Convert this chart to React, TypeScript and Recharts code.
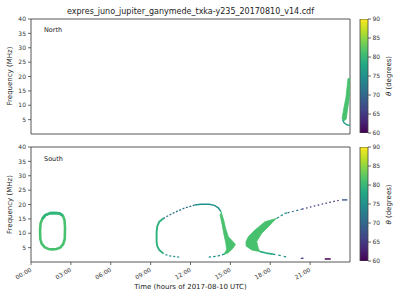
import React from 'react';
import { ComposedChart, Scatter, XAxis, YAxis, BarChart, Bar, ReferenceArea } from 'recharts';

const hourTicks = [0, 3, 6, 9, 12, 15, 18, 21];
const freqTicks = [5, 10, 15, 20, 25, 30, 35, 40];
const thetaTicks = [60, 65, 70, 75, 80, 85, 90];
const colorbarData = [{ name: 'theta', range: [60, 90] }];

// North hemisphere
const northBand = [
  { t: 23.85, f: 19.3 }, { t: 24.0, f: 19.3 }, { t: 24.0, f: 17 }, { t: 23.95, f: 12.8 },
  { t: 23.8, f: 8.1 }, { t: 23.72, f: 5.2 }, { t: 23.6, f: 4.7 }, { t: 23.4, f: 5.2 },
  { t: 23.5, f: 8.1 }, { t: 23.7, f: 12.8 }, { t: 23.85, f: 19.3 },
];
const northTail = [
  { t: 23.45, f: 5.0 }, { t: 23.55, f: 3.9 }, { t: 23.75, f: 3.2 }, { t: 24.0, f: 3.0 },
];

// South hemisphere
const ovalLeft = [
  { t: 1.45, f: 17.0 }, { t: 1.8, f: 17.05 }, { t: 2.15, f: 16.9 }, { t: 2.4, f: 16.1 },
  { t: 2.52, f: 14.6 }, { t: 2.56, f: 12 }, { t: 2.54, f: 8 }, { t: 2.42, f: 6.2 },
  { t: 2.2, f: 5.0 }, { t: 1.92, f: 4.5 }, { t: 1.6, f: 4.4 }, { t: 1.3, f: 4.55 },
  { t: 1.02, f: 5.2 }, { t: 0.8, f: 6.4 }, { t: 0.7, f: 8 }, { t: 0.68, f: 11 },
  { t: 0.72, f: 13.4 }, { t: 0.85, f: 15 }, { t: 1.08, f: 16.3 }, { t: 1.45, f: 17.0 },
];
const ovalLeftTop = [
  { t: 0.85, f: 15 }, { t: 1.08, f: 16.3 }, { t: 1.45, f: 17.0 }, { t: 1.8, f: 17.05 },
  { t: 2.15, f: 16.9 }, { t: 2.4, f: 16.1 },
];
const midLeft = [
  { t: 9.95, f: 3.0 }, { t: 9.65, f: 4.2 }, { t: 9.5, f: 5.5 }, { t: 9.45, f: 7 },
  { t: 9.45, f: 10.5 }, { t: 9.5, f: 12.5 }, { t: 9.65, f: 14 }, { t: 9.95, f: 15.1 },
];
const midTopDotted = [
  { t: 9.95, f: 15.1 }, { t: 10.4, f: 16.3 }, { t: 11.06, f: 17.8 }, { t: 11.7, f: 19.0 }, { t: 12.3, f: 19.8 },
];
const midTop = [
  { t: 12.3, f: 19.8 }, { t: 12.8, f: 20.1 }, { t: 13.4, f: 20.1 }, { t: 13.8, f: 19.7 },
  { t: 14.1, f: 18.8 }, { t: 14.3, f: 17.5 },
];
const midLobe = [
  { t: 14.3, f: 17.5 }, { t: 14.5, f: 14.5 }, { t: 14.65, f: 11.5 }, { t: 14.85, f: 8.8 },
  { t: 15.15, f: 7.3 }, { t: 15.38, f: 6.1 }, { t: 15.2, f: 4.8 }, { t: 14.85, f: 3.2 },
  { t: 14.5, f: 2.6 }, { t: 14.72, f: 4.3 }, { t: 14.66, f: 6.5 }, { t: 14.52, f: 9.5 },
  { t: 14.38, f: 13 }, { t: 14.22, f: 16.5 },
];
const midBottomRight = [
  { t: 14.55, f: 2.7 }, { t: 14.1, f: 2.15 }, { t: 13.7, f: 1.85 }, { t: 13.3, f: 1.7 },
];
const midBottomLeft = [
  { t: 11.15, f: 1.7 }, { t: 10.5, f: 2.05 }, { t: 10.1, f: 2.6 }, { t: 9.95, f: 3.0 },
];
const rightLobe = [
  { t: 18.5, f: 15.2 }, { t: 17.6, f: 14.0 }, { t: 16.85, f: 11.1 }, { t: 16.35, f: 8.8 },
  { t: 16.18, f: 7.1 }, { t: 16.18, f: 5.6 }, { t: 16.6, f: 4.2 }, { t: 17.23, f: 3.6 },
  { t: 17.1, f: 4.8 }, { t: 16.98, f: 7.1 }, { t: 17.36, f: 10 }, { t: 18.1, f: 13.4 },
];
const rightLowSolid = [
  { t: 17.23, f: 3.6 }, { t: 17.7, f: 3.1 }, { t: 18.2, f: 2.75 },
];
const rightLowDashed = [
  { t: 18.2, f: 2.75 }, { t: 18.9, f: 2.1 }, { t: 19.3, f: 1.65 },
];
const rightLowPurple = [{ t: 20.3, f: 1.3 }, { t: 20.5, f: 1.3 }];
const rightLowDark = [{ t: 22.1, f: 1.05 }, { t: 22.55, f: 1.05 }];
const rightUpTeal = [{ t: 18.5, f: 15.2 }, { t: 19.1, f: 16.9 }, { t: 19.3, f: 17.1 }];
const rightUpBlue = [{ t: 19.3, f: 17.1 }, { t: 20.4, f: 18.4 }];
const rightUpPurple = [
  { t: 20.4, f: 18.4 }, { t: 21.6, f: 19.8 }, { t: 22.9, f: 21.2 }, { t: 23.3, f: 21.5 },
];
const rightUpEnd = [{ t: 23.4, f: 21.6 }, { t: 23.8, f: 21.6 }];

const viridisStops = [
  '#440154', '#482475', '#414487', '#355f8d', '#2a788e', '#21918c',
  '#22a884', '#44bf70', '#7ad151', '#bddf26', '#fde725',
];

const GREEN = '#48c16e';
const FONT = 'DejaVu Sans';
const AXIS = '#444';

const EmptyShape = () => <g />;

const pad = (n: number) => (n < 10 ? '0' + n : '' + n);

const TimeTick = (props: any) => {
  const { x, y, payload } = props;
  return (
    <g transform={`translate(${x + 1},${y + 4})`}>
      <text x={0} y={0} textAnchor="end" transform="rotate(-30)" fontSize={6} fill="#333" fontFamily={FONT}>
        {pad(payload.value) + ':00'}
      </text>
    </g>
  );
};

function Seg({ data, color, width = 1.5, dash, fill }: { data: any[]; color: string; width?: number; dash?: string; fill?: boolean }) {
  return (
    <Scatter
      data={data}
      fill={color}
      shape={EmptyShape}
      isAnimationActive={false}
      line={{
        stroke: color,
        strokeWidth: width,
        strokeDasharray: dash,
        fill: fill ? color : 'none',
        strokeLinejoin: 'round',
      } as any}
      lineType="joint"
    />
  );
}

function Panel({ top, height, bottomAxis, children }: { top: number; height: number; bottomAxis: boolean; children: React.ReactNode }) {
  const plotBottom = top + 115;
  return (
    <div style={{ position: 'absolute', left: 0, top: 0 }}>
      <ComposedChart
        width={360}
        height={height}
        margin={{ top, right: 10, bottom: 0, left: 0 }}
      >
        <XAxis
          dataKey="t"
          type="number"
          domain={[0, 24]}
          ticks={hourTicks}
          allowDataOverflow
          height={height - plotBottom}
          axisLine={false}
          tickLine={{ stroke: AXIS, strokeWidth: 0.8 }}
          tickSize={3}
          tickMargin={2}
          tick={bottomAxis ? <TimeTick /> : false}
          interval={0}
        />
        <YAxis
          dataKey="f"
          type="number"
          domain={[0, 40]}
          ticks={freqTicks}
          allowDataOverflow
          width={31}
          axisLine={false}
          tickLine={{ stroke: AXIS, strokeWidth: 0.8 }}
          tickSize={3}
          tickMargin={2}
          tick={{ fontSize: 6, fill: '#333', fontFamily: FONT }}
          interval={0}
        />
        {children}
        <ReferenceArea x1={0} x2={24} y1={0} y2={40} fill="none" stroke={AXIS} strokeWidth={0.9} />
      </ComposedChart>
    </div>
  );
}

function Colorbar({ id, top, height }: { id: string; top: number; height: number }) {
  return (
    <div style={{ position: 'absolute', left: 0, top: 0 }}>
      <BarChart
        width={400}
        height={height}
        data={colorbarData}
        margin={{ top, right: 8, bottom: height - top - 114, left: 360 }}
        barCategoryGap={0}
      >
        <defs>
          <linearGradient id={id} x1="0" y1="1" x2="0" y2="0">
            {viridisStops.map((c, i) => (
              <stop key={i} offset={i / (viridisStops.length - 1)} stopColor={c} />
            ))}
          </linearGradient>
        </defs>
        <XAxis dataKey="name" type="category" hide />
        <YAxis
          orientation="right"
          type="number"
          domain={[60, 90]}
          ticks={thetaTicks}
          allowDataOverflow
          width={24}
          axisLine={false}
          tickLine={{ stroke: AXIS, strokeWidth: 0.8 }}
          tickSize={3}
          tickMargin={1.5}
          tick={{ fontSize: 6, fill: '#333', fontFamily: FONT }}
          interval={0}
        />
        <Bar dataKey="range" fill={`url(#${id})`} stroke={AXIS} strokeWidth={0.8} isAnimationActive={false} />
      </BarChart>
    </div>
  );
}

export default function App() {
  return (
    <div style={{ position: 'absolute', left: 0, top: 0, width: 400, height: 300, background: '#fff', overflow: 'hidden' }}>
      <Panel top={19} height={140} bottomAxis={false}>
        {Seg({ data: northBand, color: GREEN, width: 0.8, fill: true })}
        {Seg({ data: northTail, color: '#1fa187', width: 1.4 })}
      </Panel>
      <Panel top={147} height={300} bottomAxis={true}>
        {Seg({ data: ovalLeft, color: GREEN, width: 2.6 })}
        {Seg({ data: ovalLeftTop, color: '#31b57b', width: 2.6 })}
        {Seg({ data: midLeft, color: '#2db27d', width: 1.9 })}
        {Seg({ data: midTopDotted, color: '#2c728e', width: 1.3, dash: '2 1.6' })}
        {Seg({ data: midTop, color: '#21918c', width: 1.5 })}
        {Seg({ data: midLobe, color: GREEN, width: 0.8, fill: true })}
        {Seg({ data: midBottomRight, color: '#21918c', width: 1.3, dash: '2.5 2' })}
        {Seg({ data: midBottomLeft, color: '#21918c', width: 1.3, dash: '2 2' })}
        {Seg({ data: rightLobe, color: GREEN, width: 0.8, fill: true })}
        {Seg({ data: rightLowSolid, color: '#28ae80', width: 1.6 })}
        {Seg({ data: rightLowDashed, color: '#21918c', width: 1.3, dash: '2.5 3' })}
        {Seg({ data: rightLowPurple, color: '#46337e', width: 1.3 })}
        {Seg({ data: rightLowDark, color: '#440154', width: 1.5 })}
        {Seg({ data: rightUpTeal, color: '#21918c', width: 1.3, dash: '2.5 2' })}
        {Seg({ data: rightUpBlue, color: '#2c728e', width: 1.2, dash: '2 2.5' })}
        {Seg({ data: rightUpPurple, color: '#472d7b', width: 1.2, dash: '1.6 2.4' })}
        {Seg({ data: rightUpEnd, color: '#3b528b', width: 1.4 })}
      </Panel>
      <Colorbar id="viridisN" top={19} height={140} />
      <Colorbar id="viridisS" top={147} height={300} />
      <svg width={400} height={300} style={{ position: 'absolute', left: 0, top: 0, pointerEvents: 'none' }} fontFamily={FONT}>
        <text x={190.5} y={13.5} textAnchor="middle" fontSize={8} fill="#222">
          expres_juno_jupiter_ganymede_txka-y235_20170810_v14.cdf
        </text>
        <text x={44} y={31.5} fontSize={6.5} fill="#222">North</text>
        <text x={44} y={160.5} fontSize={6.5} fill="#222">South</text>
        <text transform="translate(12.3,76) rotate(-90)" textAnchor="middle" fontSize={7} fill="#222">Frequency (MHz)</text>
        <text transform="translate(12.3,204.5) rotate(-90)" textAnchor="middle" fontSize={7} fill="#222">Frequency (MHz)</text>
        <text transform="translate(390.5,76) rotate(-90)" textAnchor="middle" fontSize={7} fill="#222">
          <tspan fontStyle="italic">θ</tspan> (degrees)
        </text>
        <text transform="translate(390.5,204.5) rotate(-90)" textAnchor="middle" fontSize={7} fill="#222">
          <tspan fontStyle="italic">θ</tspan> (degrees)
        </text>
        <text x={190.5} y={289} textAnchor="middle" fontSize={7} fill="#222">Time (hours of 2017-08-10 UTC)</text>
      </svg>
    </div>
  );
}
